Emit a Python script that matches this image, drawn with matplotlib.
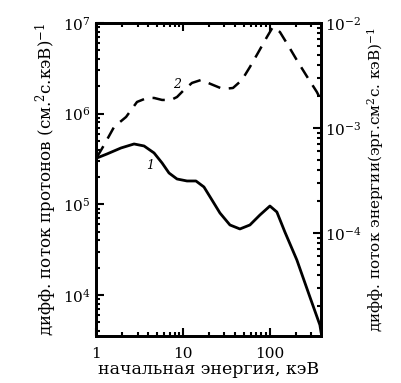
import matplotlib
matplotlib.use("Agg")
import matplotlib.pyplot as plt
from matplotlib.ticker import LogLocator, NullFormatter
import numpy as np

plt.rcParams['font.family'] = ['DejaVu Serif']
plt.rcParams['mathtext.fontset'] = 'dejavuserif'

# curve 1: differential proton flux, (cm^2 s keV)^-1, log10 values
log_e1 = [0.011, 0.126, 0.287, 0.437, 0.552, 0.667, 0.759, 0.839, 0.931, 1.046,
          1.149, 1.241, 1.333, 1.425, 1.54, 1.655, 1.77, 1.885, 2.0, 2.08,
          2.172, 2.31, 2.46, 2.575, 2.59]
log_f1 = [5.512, 5.556, 5.622, 5.666, 5.644, 5.567, 5.457, 5.346, 5.280, 5.258,
          5.258, 5.192, 5.049, 4.905, 4.773, 4.729, 4.773, 4.883, 4.982, 4.916,
          4.696, 4.387, 3.979, 3.670, 3.58]

# curve 2: differential energy flux, (erg cm^2 s keV)^-1
log_e2 = [0.011, 0.092, 0.207, 0.345, 0.471, 0.586, 0.667, 0.759, 0.862, 0.931,
          1.011, 1.103, 1.207, 1.345, 1.46, 1.575, 1.678, 1.77, 1.862, 1.966,
          2.034, 2.115, 2.207, 2.322, 2.437, 2.54, 2.586]
log_f2 = [-3.276, -3.162, -2.99, -2.895, -2.752, -2.714, -2.714, -2.733, -2.733, -2.705,
          -2.638, -2.571, -2.543, -2.59, -2.629, -2.619, -2.543, -2.419, -2.286, -2.133,
          -2.038, -2.086, -2.21, -2.371, -2.524, -2.657, -2.733]

fig = plt.figure(figsize=(4.02, 3.83), dpi=100)
ax = fig.add_axes([0.239, 0.123, 0.560, 0.817])
ax2 = ax.twinx()

ax.plot(10 ** np.array(log_e1), 10 ** np.array(log_f1), color='black', lw=2.0,
        solid_capstyle='round', solid_joinstyle='round')
ax2.plot(10 ** np.array(log_e2), 10 ** np.array(log_f2), color='black', lw=1.8,
         dashes=(5, 3.5))

ax.set_xscale('log')
ax.set_yscale('log')
ax2.set_yscale('log')
ax.set_xlim(1, 10 ** 2.59)
ax.set_ylim(10 ** 3.55, 1e7)
ax2.set_ylim(10 ** -4.98, 1e-2)

ax.set_xticks([1, 10, 100])
ax.set_xticklabels(['1', '10', '100'])
ax.xaxis.set_minor_locator(LogLocator(subs=np.arange(2, 10)))
ax.xaxis.set_minor_formatter(NullFormatter())

ax.set_yticks([1e4, 1e5, 1e6, 1e7])
ax.set_yticklabels(['$10^4$', '$10^5$', '$10^6$', '$10^7$'])
ax.yaxis.set_minor_locator(LogLocator(subs=np.arange(2, 10)))
ax.yaxis.set_minor_formatter(NullFormatter())

ax2.set_yticks([1e-4, 1e-3, 1e-2])
ax2.set_yticklabels(['$10^{-4}$', '$10^{-3}$', '$10^{-2}$'])
ax2.yaxis.set_minor_locator(LogLocator(subs=np.arange(2, 10)))
ax2.yaxis.set_minor_formatter(NullFormatter())

ax.tick_params(which='both', direction='in', top=True, labelsize=11, width=1.5)
ax.tick_params(which='major', length=6)
ax.tick_params(which='minor', length=3)
ax.tick_params(axis='x', pad=8)
ax.tick_params(axis='y', pad=4)
ax2.tick_params(which='both', direction='in', labelsize=11, width=1.5, pad=3)
ax2.tick_params(which='major', length=6)
ax2.tick_params(which='minor', length=3)

for a in (ax, ax2):
    for s in a.spines.values():
        s.set_linewidth(2)

ax.set_xlabel('начальная энергия, кэВ', fontsize=12.5, labelpad=0)
ax.set_ylabel('дифф. поток протонов (см.$^2$с.кэВ)$^{-1}$', fontsize=12, labelpad=3)
ax2.set_ylabel('дифф. поток энергии(эрг.см$^2$с. кэВ)$^{-1}$', fontsize=11,
               rotation=90, labelpad=2)

ax.text(4.2, 10 ** 5.43, '1', fontsize=9, style='italic', ha='center', va='center')
ax.text(8.5, 10 ** 6.32, '2', fontsize=9, style='italic', ha='center', va='center')

fig.savefig('out.png', dpi=100)
